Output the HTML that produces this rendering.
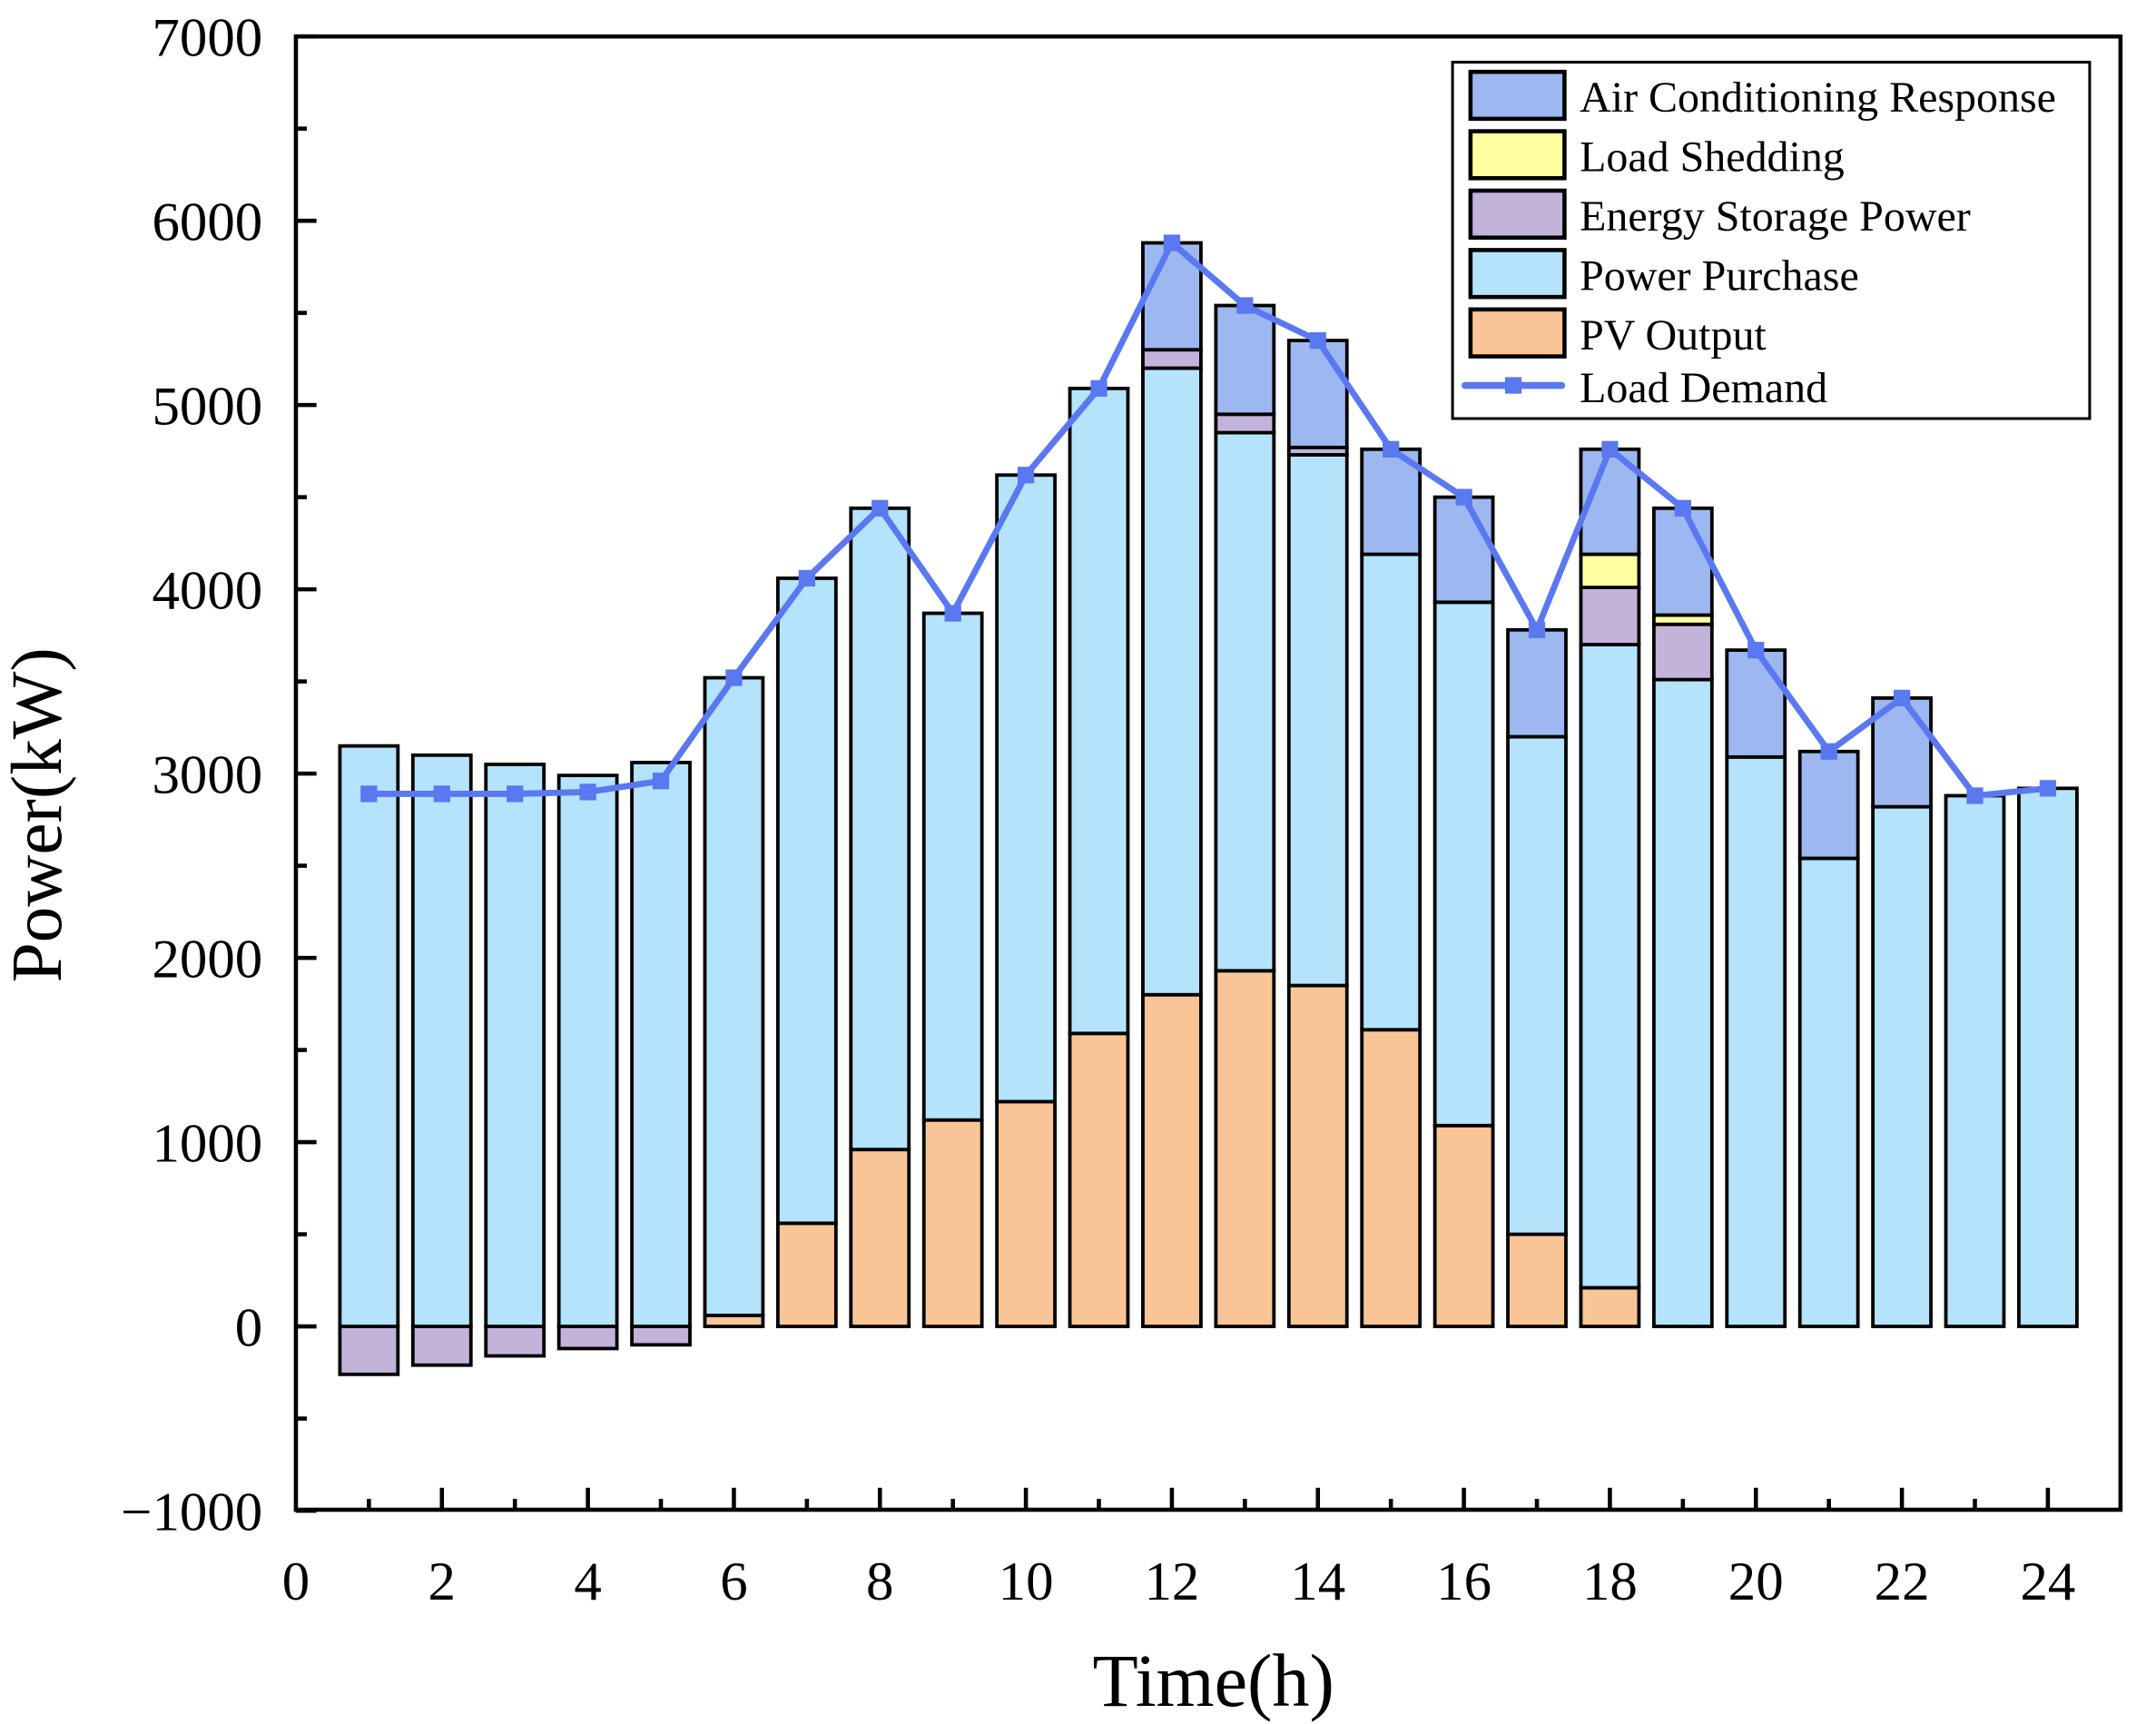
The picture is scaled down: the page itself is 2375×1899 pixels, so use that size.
<!DOCTYPE html>
<html><head><meta charset="utf-8"><style>
html,body{margin:0;padding:0;background:#fff}
svg{display:block}
text{font-family:"Liberation Serif",serif;fill:#000}
</style></head><body>
<svg id="chart" width="2375" height="1899" viewBox="0 0 1560 1248" preserveAspectRatio="none" xmlns="http://www.w3.org/2000/svg">
<rect x="0" y="0" width="1560" height="1248" fill="#fff"/>
<g id="bars"></g>
<g id="axes"></g>
<g id="line"></g>
<rect x="214.1" y="26.4" width="1320.2" height="1066.5" fill="none" stroke="#000" stroke-width="3"/>
<text x="44" y="590" font-size="52" text-anchor="middle" transform="rotate(-90 44 590)">Power(kW)</text>
<text x="878" y="1235" font-size="54" text-anchor="middle">Time(h)</text>
<g>
<rect x="1051" y="45" width="461" height="258" fill="#fff" stroke="#000" stroke-width="2"/>
<g><rect x="1064" y="52" width="68" height="34" fill="#9DB8F0" stroke="#000" stroke-width="3"/><text x="1143" y="81" font-size="31.5">Air Conditioning Response</text></g>
<g><rect x="1064" y="95" width="68" height="34" fill="#FFFFA0" stroke="#000" stroke-width="3"/><text x="1143" y="124" font-size="31.5">Load Shedding</text></g>
<g><rect x="1064" y="138" width="68" height="34" fill="#C3B3DA" stroke="#000" stroke-width="3"/><text x="1143" y="167" font-size="31.5">Energy Storage Power</text></g>
<g><rect x="1064" y="181" width="68" height="34" fill="#B5E3FC" stroke="#000" stroke-width="3"/><text x="1143" y="210" font-size="31.5">Power Purchase</text></g>
<g><rect x="1064" y="224" width="68" height="34" fill="#F9C597" stroke="#000" stroke-width="3"/><text x="1143" y="253" font-size="31.5">PV Output</text></g>
<g><line x1="1060" y1="279" x2="1130" y2="279" stroke="#5A78F0" stroke-width="5" stroke-linecap="round"/><rect x="1089" y="273" width="12" height="12" fill="#5A78F0"/><text x="1143" y="291" font-size="31.5">Load Demand</text></g>
</g>
</svg>
<script>
const hours=[1,2,3,4,5,6,7,8,9,10,11,12,13,14,15,16,17,18,19,20,21,22,23,24];
const pvOutput=[0,0,0,0,0,60,560,960,1120,1220,1590,1800,1930,1850,1610,1090,500,210,0,0,0,0,0,0];
const powerPurchase=[3150,3100,3050,2990,3060,3460,3500,3480,2750,3400,3500,3400,2920,2880,2580,2840,2700,3490,3510,3090,2540,2820,2880,2920];
const storagePower=[-260,-210,-160,-120,-100,0,0,0,0,0,0,100,100,40,0,0,0,310,300,0,0,0,0,0];
const loadShedding=[0,0,0,0,0,0,0,0,0,0,0,0,0,0,0,0,0,180,50,0,0,0,0,0];
const acResponse=[0,0,0,0,0,0,0,0,0,0,0,580,590,580,570,570,580,570,580,580,580,590,0,0];
const loadDemand=[2890,2890,2890,2900,2960,3520,4060,4440,3870,4620,5090,5880,5540,5350,4760,4500,3780,4760,4440,3670,3120,3410,2880,2920];
const yTicks=[-1000,0,1000,2000,3000,4000,5000,6000,7000];
const xTicks=[0,2,4,6,8,10,12,14,16,18,20,22,24];

const NS="http://www.w3.org/2000/svg";
const X=v=>214.1+v*52.82;
const Y=v=>960.2-v*0.1334;
const BW=42;
function mk(tag,attrs,parent){const e=document.createElementNS(NS,tag);for(const k in attrs)e.setAttribute(k,attrs[k]);parent.appendChild(e);return e;}
const bars=document.getElementById('bars'),axes=document.getElementById('axes'),line=document.getElementById('line');
function seg(h,v0,v1,fill,name){
  if(v1===v0)return;
  const a=Math.min(Y(v0),Y(v1)),b=Math.max(Y(v0),Y(v1));
  const r=mk('rect',{x:X(h)-BW/2,y:a,width:BW,height:b-a,fill:fill,stroke:'#000','stroke-width':2.5},bars);
  
  
}
hours.forEach((h,i)=>{
  if(storagePower[i]<0)seg(h,0,storagePower[i],'#C3B3DA','bar-storage-'+h);
  let b=0;
  seg(h,b,b+pvOutput[i],'#F9C597','bar-pv-'+h);b+=pvOutput[i];
  seg(h,b,b+powerPurchase[i],'#B5E3FC','bar-purchase-'+h);b+=powerPurchase[i];
  if(storagePower[i]>0){seg(h,b,b+storagePower[i],'#C3B3DA','bar-storage-'+h);b+=storagePower[i];}
  seg(h,b,b+loadShedding[i],'#FFFFA0','bar-shedding-'+h);b+=loadShedding[i];
  seg(h,b,b+acResponse[i],'#9DB8F0','bar-ac-'+h);
});
yTicks.forEach(v=>{
  const t=mk('line',{x1:214,x2:229,y1:Y(v),y2:Y(v),stroke:'#000','stroke-width':3},axes);
  
  if(v<7000){const m=mk('line',{x1:214,x2:222,y1:Y(v+500),y2:Y(v+500),stroke:'#000','stroke-width':3},axes);
  }
  const l=mk('text',{x:190,y:Y(v)+14,'font-size':40,'text-anchor':'end'},axes);l.textContent=v<0?'\u2212'+Math.abs(v):String(v);
  
});
hours.forEach(h=>{
  const t=mk('line',{x1:X(h),x2:X(h),y1:1093,y2:(h%2===0?1077:1085),stroke:'#000','stroke-width':3},axes);
  
});
xTicks.forEach(v=>{
  const l=mk('text',{x:X(v),y:1158,'font-size':40,'text-anchor':'middle'},axes);l.textContent=String(v);
  
});
const pts=hours.map((h,i)=>X(h)+','+Y(loadDemand[i])).join(' ');
const pl=mk('polyline',{points:pts,fill:'none',stroke:'#5A78F0','stroke-width':4.5,'stroke-linejoin':'round'},line);

hours.forEach((h,i)=>{
  const m=mk('rect',{x:X(h)-6,y:Y(loadDemand[i])-6,width:12,height:12,fill:'#5A78F0'},line);
  
});
</script>
</body></html>
